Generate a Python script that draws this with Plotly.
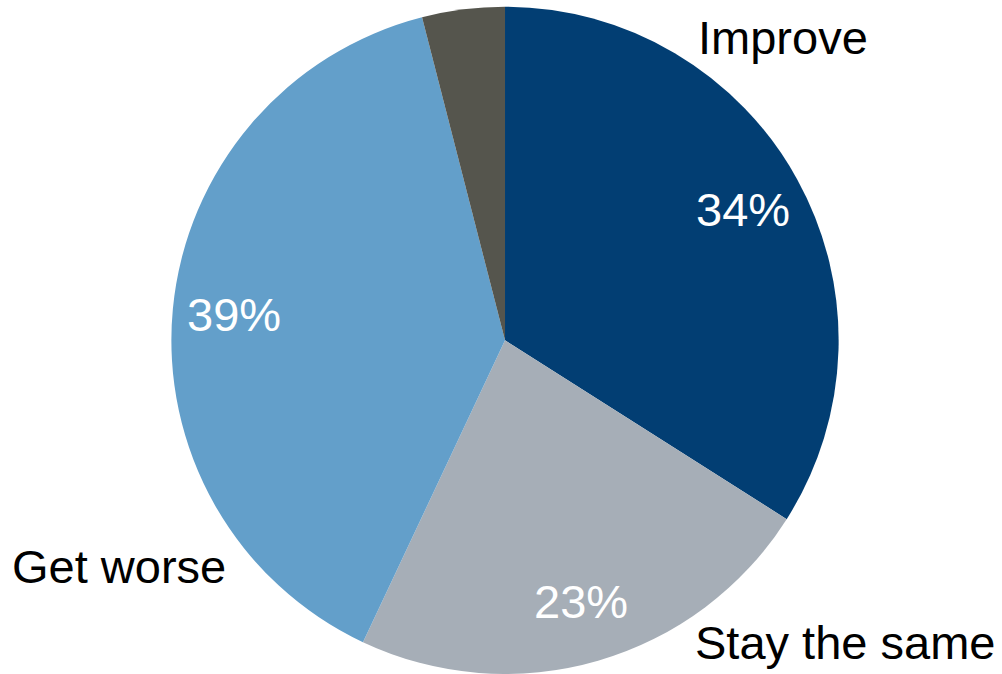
import math
import plotly.graph_objects as go

# Survey outlook shares (percent), clockwise from 12 o'clock
categories = ["Improve", "Stay the same", "Get worse", "Don't know"]
values = [34, 23, 39, 4]
colors = ["#023e73", "#a6aeb7", "#639fca", "#55554d"]

W, H = 1002, 674
dom_x = [0.168, 0.840]
dom_y = [0.0, 0.99]

fig = go.Figure(go.Pie(
    labels=categories,
    values=values,
    sort=False,
    direction="clockwise",
    rotation=0,
    marker=dict(colors=colors, line=dict(width=0)),
    textinfo="none",
    hoverinfo="label+percent",
    showlegend=False,
    domain=dict(x=dom_x, y=dom_y),
))

# pie geometry in pixels (plotly uses the smaller domain side for the radius)
cx = (dom_x[0] + dom_x[1]) / 2 * W
cy = (1 - (dom_y[0] + dom_y[1]) / 2) * H
R = min((dom_x[1] - dom_x[0]) * W, (dom_y[1] - dom_y[0]) * H) / 2

font = "Liberation Sans, Arial, sans-serif"
annotations = []

# percentage labels placed along each slice's mid-angle
total = sum(values)
cum = 0
for cat, v in zip(categories, values):
    mid = (cum + v / 2) / total * 2 * math.pi
    cum += v
    if v < 10:
        continue
    r = 0.815 * R
    px = cx + r * math.sin(mid)
    py = cy - r * math.cos(mid)
    annotations.append(dict(
        x=px / W, y=1 - py / H, xref="paper", yref="paper",
        text=f"{v}%", showarrow=False,
        font=dict(family=font, size=47, color="white"),
        xanchor="center", yanchor="middle",
    ))

# category names outside the pie
outer = {"Improve": (783, 38), "Stay the same": (845, 642), "Get worse": (119, 566)}
for cat, (px, py) in outer.items():
    annotations.append(dict(
        x=px / W, y=1 - py / H, xref="paper", yref="paper",
        text=cat, showarrow=False,
        font=dict(family=font, size=47, color="black"),
        xanchor="center", yanchor="middle",
    ))

fig.update_layout(
    width=W, height=H,
    margin=dict(l=0, r=0, t=0, b=0),
    paper_bgcolor="white",
    plot_bgcolor="white",
    annotations=annotations,
)

fig.write_html("out.html")
